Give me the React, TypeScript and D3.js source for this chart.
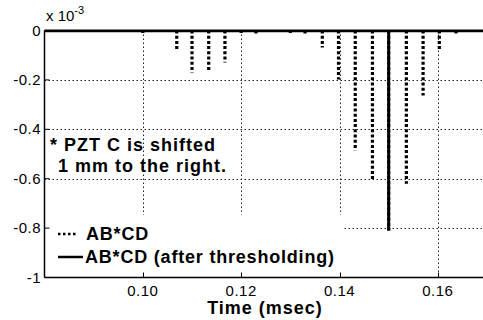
import React, { useRef, useEffect } from 'react';
import * as d3 from 'd3';

// 数据：AB*CD（点线）的峰值，单位 x10^-3
const times = [0.1, 0.1069, 0.11, 0.1134, 0.1167, 0.12, 0.123, 0.1258, 0.1282, 0.13, 0.133,
  0.1365, 0.1398, 0.1432, 0.1467, 0.15, 0.1536, 0.157, 0.1603, 0.1637, 0.1678];
const abcd = [-0.01, -0.081, -0.17, -0.16, -0.13, -0.01, -0.015, -0.006, -0.006, -0.01, -0.015,
  -0.069, -0.198, -0.485, -0.61, -0.81, -0.62, -0.263, -0.081, -0.012, -0.006];
// 阈值处理后的峰
const threshTimes = [0.15];
const threshValues = [-0.81];

const xTicks = [0.1, 0.12, 0.14, 0.16];
const yTicks = [0, -0.2, -0.4, -0.6, -0.8, -1];
const yTickLabels = ['0', '-0.2', '-0.4', '-0.6', '-0.8', '-1'];

const App: React.FC = () => {
  const svgRef = useRef<SVGSVGElement>(null);

  const width = 483;
  const height = 320;
  const left = 44.5;
  const top = 30.5;
  const bottom = 277.5;

  const x = d3.scaleLinear().domain([0.08, 0.17]).range([left, 487]);
  const y = d3.scaleLinear().domain([0, -1]).range([top, bottom]);

  useEffect(() => {
    if (!svgRef.current) return;
    const svg = d3.select(svgRef.current);
    svg.selectAll('*').remove();
    svg.attr('width', width).attr('height', height);

    const font = "'Liberation Sans', Arial, sans-serif";

    // 网格
    const grid = svg.append('g').attr('stroke', '#222').attr('stroke-width', 1).attr('stroke-dasharray', '1.5,2.5');
    grid.selectAll('.gx').data(xTicks).join('line')
      .attr('x1', (d) => Math.round(x(d)) + 0.5).attr('x2', (d) => Math.round(x(d)) + 0.5)
      .attr('y1', top).attr('y2', bottom);
    grid.selectAll('.gy').data(yTicks.slice(1, -1)).join('line')
      .attr('x1', left).attr('x2', width)
      .attr('y1', (d) => Math.round(y(d)) + 0.5).attr('y2', (d) => Math.round(y(d)) + 0.5);

    // 图例背景遮住网格
    svg.append('rect').attr('x', left + 1).attr('y', 215).attr('width', 298).attr('height', 60).attr('fill', '#fff');

    // 坐标轴框
    const ax = svg.append('g').attr('stroke', '#000').attr('fill', 'none');
    ax.append('line').attr('x1', left).attr('x2', left).attr('y1', top).attr('y2', bottom).attr('stroke-width', 1.5);
    ax.append('line').attr('x1', left).attr('x2', width).attr('y1', bottom).attr('y2', bottom).attr('stroke-width', 1.5);
    ax.append('line').attr('x1', left).attr('x2', width).attr('y1', top).attr('y2', top).attr('stroke-width', 2);
    ax.selectAll('.tx').data(xTicks).join('line')
      .attr('x1', (d) => Math.round(x(d)) + 0.5).attr('x2', (d) => Math.round(x(d)) + 0.5)
      .attr('y1', bottom).attr('y2', bottom - 5);
    ax.selectAll('.ty').data(yTicks).join('line')
      .attr('x1', left).attr('x2', left + 5)
      .attr('y1', (d) => y(d)).attr('y2', (d) => y(d));

    // 刻度标签
    svg.selectAll('.xl').data(xTicks).join('text')
      .attr('x', (d) => x(d)).attr('y', 296)
      .attr('text-anchor', 'middle').attr('font-family', font).attr('font-size', 15)
      .attr('letter-spacing', 0.5)
      .text((d) => d3.format('.2f')(d));
    svg.selectAll('.yl').data(yTicks).join('text')
      .attr('x', 41).attr('y', (d) => y(d) + 5)
      .attr('text-anchor', 'end').attr('font-family', font).attr('font-size', 15)
      .attr('letter-spacing', 0.5)
      .text((d, i) => yTickLabels[i]);

    const exp = svg.append('text').attr('x', 46).attr('y', 21).attr('font-family', font).attr('font-size', 15);
    exp.append('tspan').text('x 10');
    exp.append('tspan').attr('dy', -7).attr('font-size', 11).text('-3');

    // AB*CD 点线
    svg.append('line').attr('x1', left).attr('x2', width).attr('y1', y(0) + 1).attr('y2', y(0) + 1)
      .attr('stroke', '#000').attr('stroke-width', 1.5);
    svg.selectAll('.bar').data(times).join('line')
      .attr('x1', (d) => x(d)).attr('x2', (d) => x(d))
      .attr('y1', y(0)).attr('y2', (d, i) => y(abcd[i]))
      .attr('stroke', '#000').attr('stroke-width', 3.2).attr('stroke-dasharray', '3,2.2');

    // 阈值后
    svg.selectAll('.th').data(threshTimes).join('line')
      .attr('x1', (d) => x(d)).attr('x2', (d) => x(d))
      .attr('y1', y(0)).attr('y2', (d, i) => y(threshValues[i]))
      .attr('stroke', '#000').attr('stroke-width', 3);

    // 注释文字
    svg.append('text').attr('x', 50).attr('y', 151).attr('font-family', font).attr('font-size', 18)
      .attr('font-weight', 'bold').attr('letter-spacing', 1).text('* PZT C is shifted');
    svg.append('text').attr('x', 58).attr('y', 172).attr('font-family', font).attr('font-size', 18)
      .attr('font-weight', 'bold').attr('letter-spacing', 1).text('1 mm to the right.');

    // 图例
    svg.append('line').attr('x1', 58).attr('x2', 77).attr('y1', 234).attr('y2', 234)
      .attr('stroke', '#000').attr('stroke-width', 2.5).attr('stroke-dasharray', '2.5,2.5');
    svg.append('text').attr('x', 86).attr('y', 240).attr('font-family', font).attr('font-size', 18)
      .attr('font-weight', 'bold').attr('letter-spacing', 0.8).text('AB*CD');
    svg.append('line').attr('x1', 58).attr('x2', 83).attr('y1', 257).attr('y2', 257)
      .attr('stroke', '#000').attr('stroke-width', 2.5);
    svg.append('text').attr('x', 85).attr('y', 263).attr('font-family', font).attr('font-size', 18)
      .attr('font-weight', 'bold').attr('letter-spacing', 0.8).text('AB*CD (after thresholding)');

    // x 轴标题
    svg.append('text').attr('x', 265).attr('y', 314).attr('text-anchor', 'middle')
      .attr('font-family', font).attr('font-size', 18).attr('font-weight', 'bold')
      .attr('letter-spacing', 1).text('Time (msec)');
  }, []);

  return (
    <svg ref={svgRef} width={width} height={height}
      style={{ position: 'absolute', left: 0, top: 0, background: '#fff' }} />
  );
};

export default App;
